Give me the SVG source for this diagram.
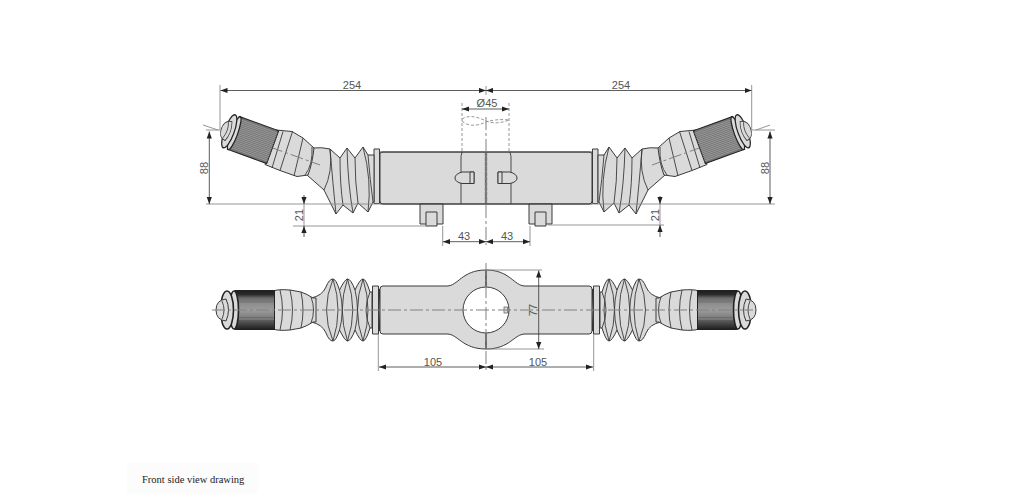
<svg xmlns="http://www.w3.org/2000/svg" width="1024" height="494" viewBox="0 0 1024 494">
<style>
.s{fill:#dadada;stroke:#3a3a3a;stroke-width:1;stroke-linejoin:round}
.l{fill:none;stroke:#3a3a3a;stroke-width:.9}
.h{fill:none;stroke:#2a2a2a;stroke-width:1.500}
.r{fill:#dadada;stroke:#222;stroke-width:1.600}
.d{fill:none;stroke:#8a8a8a;stroke-width:.9}
.a{fill:none;stroke:#333;stroke-width:.8;marker-start:url(#ar);marker-end:url(#ar)}
.c{fill:none;stroke:#808080;stroke-width:1;stroke-dasharray:13 3 3 3}
.o{fill:none;stroke:#8a8a8a;stroke-width:.9;stroke-dasharray:3 2}
.t{font-family:"Liberation Sans",Arial,sans-serif;font-size:11px;fill:#555;text-anchor:middle}
.k{stroke:#adadad;stroke-width:.6}
</style>
<defs>
<marker id="ar" markerUnits="userSpaceOnUse" markerWidth="8" markerHeight="6" refX="7" refY="3" orient="auto-start-reverse"><path d="M0,.4L7,3L0,5.600Z" fill="#222"/></marker>
<linearGradient id="kn" x1="0" y1="0" x2="0" y2="1"><stop offset="0" stop-color="#1e1e1e"/><stop offset=".1" stop-color="#2a2a2a"/><stop offset=".2" stop-color="#6e6e6e"/><stop offset=".5" stop-color="#969696"/><stop offset=".75" stop-color="#606060"/><stop offset="1" stop-color="#1e1e1e"/></linearGradient>
<g id="tip">
<ellipse class="r" cx="-21" cy="0" rx="4.500" ry="19"/>
<ellipse class="r" cx="-28" cy="0" rx="6.500" ry="19"/>
<path class="s" d="M-29,-11Q-39,-10 -39,0Q-39,10 -29,11Q-24,0 -29,-11Z"/>
<path class="l" d="M-33,-9Q-29,0 -33,9"/>
</g>
<g id="half">
<rect class="s" x="374" y="149" width="5.500" height="54.500"/>
<path class="s" d="M380,154Q380,152 383,152H486V204H383Q380,204 380,201Z"/>
<path class="l" d="M462,152Q460.500,156 461,162V204" />
<path class="s" d="M420,204H443V224H420Z"/>
<path class="s" d="M426,212H437V226H426Z"/>
<path class="s" d="M474,172H462Q455,174 455,178Q455,182 462,183.500H474Z"/>
<path class="s" d="M470,172H474V183.500H470Z"/>
<g id="bootTop">
<path class="s" d="M313,148Q322,147 330,149L340,158L347,148L355,158L363,147L368,155H374V202H373L368,212L358,203L353,213L343,205L336,214L324,190L307,175Z"/>
<path class="l" d="M330,149Q333,185 336,214M340,158Q340,185 343,205M347,148Q348,185 353,213M355,158Q355,182 358,203M363,147Q372,180 368,212M368,155Q370,180 373,202M330,149Q333,172 324,190"/>
</g>
<g id="handleTop">
<path class="s" d="M276,130L292,131.500L303,138L314,148Q312,165 308,175L297,176.500L280,170.500L265,164.500Z"/>
<path class="l" d="M283,131.500L272,168M292.500,131.500L280,170.500M303,138L294,176M312,147Q313,165 305,175"/>
<path class="c" d="M270,147L320,165"/>
<g transform="translate(253,140) rotate(20) scale(.95,.92)">
<rect x="-22" y="-19" width="44" height="38" fill="#767676" stroke="#222" stroke-width="1.200"/>
<path class="k" d="M-20,-16H22M-20,-14H22M-20,-12H22M-20,-10H22M-20,-8H22M-20,-6H22M-20,-4H22M-20,-2H22M-20,0H22M-20,2H22M-20,4H22M-20,6H22M-20,8H22M-20,10H22M-20,12H22M-20,14H22M-20,16H22"/>
<use href="#tip" transform="translate(-4.200,0) scale(.8,1)"/>
</g>
</g>
</g>
<g id="halfB">
<g id="bootBottom">
<path class="s" d="M311,298Q322,296 326,287Q329,279 333,279Q336,279 339.500,290Q345,279 347.500,279Q351,279 355,290Q360,279 363,279Q366,279 370,292H372V328H370Q366,341 363,341Q360,341 355,330Q351,341 347.500,341Q345,341 339.500,330Q336,341 333,341Q329,341 326,333Q322,324 311,322Z"/>
<path class="l" d="M333,279Q320,310 333,341M333,279Q343,310 333,341M339.500,290Q345,310 339.500,330M347.500,279Q337,310 347.500,341M347.500,279Q358,310 347.500,341M355,290Q360,310 355,330M363,279Q352,310 363,341M363,279Q373,310 363,341M370,292Q362,310 370,328"/>
</g>
<rect class="s" x="372.500" y="286" width="6" height="48"/>
<path class="h" d="M379.500,289Q381,310 379.500,331"/>
<g id="handleBottom" transform="translate(255,310)">
<path class="s" d="M19,-19Q22,-21 35,-20L46,-18Q52,-16 58,-12L61,-12L61,12L58,12Q52,16 46,18L35,20Q22,21 19,19Z"/>
<path class="l" d="M25,-20Q30,0 25,20M35,-20Q40,0 35,20M46,-18Q50,0 46,18M56,-13Q61,0 56,13"/>
<rect x="-20" y="-19.500" width="39.500" height="39" fill="url(#kn)" stroke="#222"/>
<path class="k" d="M-16,-6H19M-16,-4H19M-16,-2H19M-16,0H19M-16,2H19M-16,4H19M-16,6H19M-16,9H19"/>
<use href="#tip"/>
</g>
</g>
</defs>
<rect width="1024" height="494" fill="#fff"/>
<rect x="127" y="463" width="131" height="31" fill="#fcfcfc"/>

<g id="top-view">
<use href="#half"/>
<use href="#half" transform="translate(972,0) scale(-1,1)"/>
<path d="M486,152V204" stroke="#777" stroke-width="2.400" stroke-dasharray="4 1"/>
<path class="l" d="M380,204H592M380,152H592"/>
</g>

<g id="bottom-view">
<use href="#halfB"/>
<use href="#halfB" transform="translate(972,0) scale(-1,1)"/>
<path class="s" d="M383,286H447C458,286 462,270 486,270C510,270 514,286 525,286H589Q592,286 592,289V331Q592,334 589,334H525C514,334 510,349 486,349C462,349 458,334 447,334H383Q380,334 380,331V289Q380,286 383,286Z"/>
<circle cx="486" cy="310" r="23" fill="#fff" stroke="#3a3a3a" stroke-width="1"/>
<path d="M486,270V287M486,333V349" stroke="#666" stroke-width="2"/>
<rect x="504" y="307" width="3.500" height="6" fill="#ddd" stroke="#555" stroke-width=".7"/>
</g>

<g id="connectors">
<path class="d" d="M220,85V130M206,130H220M203,125L218,130M486,86V95M751.700,85V130M752,130H775M770,125L756,130"/>
<path class="d" d="M206,204H380M592,204H775M293,226H427M548,225H664M442.700,226V246M530,226V246M378.300,334V371M593.700,334V371M486,270H542M486,349H544"/>
<path class="c" d="M486,117V245"/>
<path class="c" d="M212,310H756"/>
<path class="c" d="M486,263V372"/>
<path class="o" d="M462,103V152M509,103V152"/>
<path class="o" d="M462,121C468,127 478,126 486,122C492,120 500,119 509,120"/>
<path class="o" d="M462,119C468,115 476,116 486,121C494,124 502,123 509,120"/>
<path class="a" d="M220.500,90.500H486"/>
<path class="a" d="M486,90.500H751.500"/>
<path class="a" d="M462,109H509"/>
<path class="a" d="M209.300,131.500V204"/>
<path class="a" d="M770,131.500V204"/>
<path class="a" d="M443,241.700H486"/>
<path class="a" d="M486,241.700H530"/>
<path class="a" d="M379,367H486"/>
<path class="a" d="M486,367H593"/>
<path class="a" d="M538.700,270.500V349"/>
<path d="M304,195V204M304,226V237M660,196V204M660,225V237" stroke="#333" stroke-width=".8" fill="none"/>
<path d="M304,204l-2.600,-7h5.200zM304,226l-2.600,7h5.200zM660,204l-2.600,-7h5.200zM660,225l-2.600,7h5.200z" fill="#222"/>
<path class="d" d="M304,204V226M660,204V225"/>
</g>

<g id="labels">
<text class="t" x="352" y="89">254</text>
<text class="t" x="621" y="89">254</text>
<text class="t" x="487" y="107">Ø45</text>
<text class="t" transform="translate(208,168) rotate(-90)">88</text>
<text class="t" transform="translate(769,168) rotate(-90)">88</text>
<text class="t" transform="translate(303,215) rotate(-90)">21</text>
<text class="t" transform="translate(659,215) rotate(-90)">21</text>
<text class="t" x="464" y="240">43</text>
<text class="t" x="507" y="240">43</text>
<text class="t" x="433" y="366">105</text>
<text class="t" x="538" y="366">105</text>
<text class="t" transform="translate(537,310) rotate(-90)">77</text>
<text x="142" y="483" font-family="'Liberation Serif','Times New Roman',serif" font-size="10.500px" fill="#222">Front side view drawing</text>
</g>
</svg>
